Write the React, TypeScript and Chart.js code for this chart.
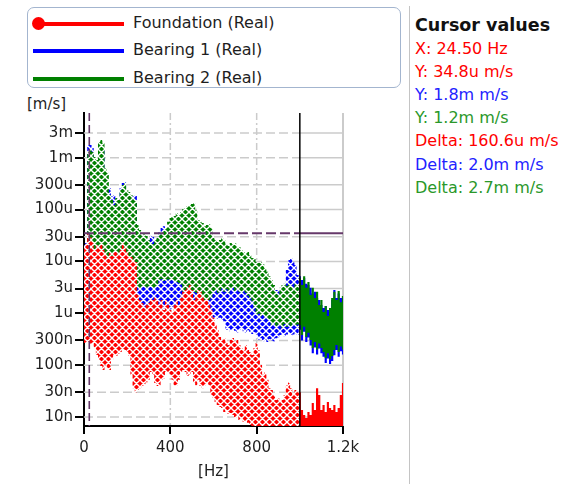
import React, { useEffect, useRef } from "react";
import { Chart, registerables } from "chart.js";

Chart.register(...registerables);

// ---------- data ----------
const FREQ_STEP_HZ = 10;
const FREQS: number[] = Array.from({ length: 121 }, (_, i) => i * FREQ_STEP_HZ);

// upper / lower envelope of each spectrum band [m/s], one value per FREQS bin
const FOUNDATION_HIGH = [
  1.9e-5, 2.17e-5, 3.5e-5, 2.9e-5, 2.37e-5, 1.66e-5, 2.08e-5, 1.9e-5, 2.08e-5, 1.66e-5,
  1.33e-5, 1.17e-5, 1.46e-5, 1.27e-5, 1.52e-5, 1.52e-5, 1.33e-5, 1.66e-5, 2.27e-5, 1.82e-5,
  1.52e-5, 1.27e-5, 1.22e-5, 1.07e-5, 9.8e-6, 2.25e-6, 1.81e-6, 1.58e-6, 1.27e-6, 1.45e-6,
  1.58e-6, 1.97e-6, 1.81e-6, 2.05e-6, 1.81e-6, 1.45e-6, 1.81e-6, 1.16e-6, 1.81e-6, 1.45e-6,
  1.16e-6, 1.06e-6, 1.45e-6, 1.81e-6, 1.45e-6, 1.97e-6, 2.6e-6, 2.81e-6, 3.1e-6, 3.52e-6,
  2.81e-6, 1.81e-6, 2.25e-6, 2.81e-6, 2.6e-6, 2.05e-6, 1.81e-6, 1.97e-6, 1.45e-6, 1.16e-6,
  8.2e-7, 5.95e-7, 4.76e-7, 3.5e-7, 3.05e-7, 3.35e-7, 2.8e-7, 2.45e-7, 3.05e-7, 3.35e-7,
  2.8e-7, 3.05e-7, 2.45e-7, 2.15e-7, 1.96e-7, 2.45e-7, 1.96e-7, 1.8e-7, 1.57e-7, 2.15e-7,
  2.67e-7, 1.96e-7, 1.01e-7, 6.5e-8, 7.4e-8, 5.2e-8, 3.6e-8, 3.3e-8, 2.66e-8, 2.13e-8,
  2.3e-8, 1.95e-8, 2.13e-8, 2.66e-8, 4.1e-8, 4.7e-8, 3.6e-8, 2.66e-8, 3.3e-8, 3.0e-8,
  3.0e-8, 1.36e-8, 1.09e-8, 9.6e-9, 1.25e-8, 1.09e-8, 1.86e-8, 1.36e-8, 3.6e-8, 2.66e-8,
  1.36e-8, 1.7e-8, 1.25e-8, 1.95e-8, 1.49e-8, 1.36e-8, 1.7e-8, 1.25e-8, 1.49e-8, 2.66e-8,
  4.5e-8,
];
const FOUNDATION_LOW = [
  2.67e-7, 2.67e-7, 2.67e-7, 2.45e-7, 2.67e-7, 2.15e-7, 1.57e-7, 1.26e-7, 9.6e-8, 8.1e-8,
  1.01e-7, 8.8e-8, 8.1e-8, 1.26e-7, 1.57e-7, 1.5e-7, 1.64e-7, 1.8e-7, 1.96e-7, 1.96e-7,
  1.8e-7, 1.5e-7, 6.5e-8, 3.6e-8, 3.0e-8, 3.3e-8, 3.6e-8, 3.95e-8, 4.3e-8, 4.7e-8,
  5.2e-8, 7.4e-8, 6.5e-8, 4.5e-8, 3.95e-8, 4.1e-8, 5.2e-8, 5.6e-8, 7.4e-8, 7.1e-8,
  6.5e-8, 5.2e-8, 4.1e-8, 4.1e-8, 5.2e-8, 7.4e-8, 8.1e-8, 7.4e-8, 6.2e-8, 6.5e-8,
  7.4e-8, 4.7e-8, 4.1e-8, 5.2e-8, 3.95e-8, 3.6e-8, 4.1e-8, 4.5e-8, 4.1e-8, 2.66e-8,
  2.3e-8, 1.95e-8, 1.7e-8, 1.56e-8, 1.49e-8, 1.25e-8, 1.36e-8, 1.14e-8, 1.19e-8, 1.09e-8,
  9.6e-9, 1.04e-8, 8.75e-9, 9.6e-9, 8.0e-9, 8.4e-9, 7.7e-9, 7.0e-9, 5e-9, 5e-9,
  5e-9, 5e-9, 5e-9, 5e-9, 5e-9, 5e-9, 5e-9, 5e-9, 5e-9, 5e-9,
  5e-9, 5e-9, 5e-9, 5e-9, 5e-9, 5e-9, 5e-9, 5e-9, 5e-9, 5e-9,
  5e-9, 5e-9, 5e-9, 5e-9, 5e-9, 5e-9, 5e-9, 5e-9, 5e-9, 5e-9,
  5e-9, 5e-9, 5e-9, 5e-9, 5e-9, 5e-9, 5e-9, 5e-9, 5e-9, 5e-9,
  5e-9,
];
const BEARING1_HIGH = [
  2.08e-5, 2.27e-5, 1.76e-3, 1.76e-3, 1.54e-3, 9.05e-4, 5.8e-4, 1.41e-3, 1.54e-3, 1.41e-3,
  2.98e-4, 2.39e-4, 2.61e-4, 1.83e-4, 1.91e-4, 1.53e-4, 1.23e-4, 2.61e-4, 3.26e-4, 3.41e-4,
  1.91e-4, 1.67e-4, 1.53e-4, 1.83e-4, 1.91e-4, 4.05e-5, 3.24e-5, 2.59e-5, 2.08e-5, 2.08e-5,
  2.59e-5, 3.24e-5, 2.96e-5, 2.37e-5, 2.59e-5, 3.7e-5, 4.4e-5, 4.8e-5, 4.4e-5, 4.8e-5,
  5.3e-5, 5.8e-5, 4.8e-5, 5.5e-5, 5.3e-5, 5.8e-5, 6.6e-5, 6.9e-5, 7.5e-5, 7.9e-5,
  8.2e-5, 8.6e-5, 6.3e-5, 4.05e-5, 3.7e-5, 3.55e-5, 3.1e-5, 3.24e-5, 3.4e-5, 2.83e-5,
  1.82e-5, 1.66e-5, 1.52e-5, 1.66e-5, 1.82e-5, 1.66e-5, 1.4e-5, 1.27e-5, 1.46e-5, 1.4e-5,
  1.46e-5, 1.27e-5, 1.22e-5, 1.07e-5, 9.8e-6, 9.3e-6, 9.8e-6, 8.55e-6, 7.5e-6, 7.5e-6,
  6.84e-6, 6.84e-6, 7.5e-6, 6.84e-6, 5.7e-6, 4.8e-6, 4.0e-6, 3.5e-6, 2.8e-6, 2.8e-6,
  2.8e-6, 2.6e-6, 3.1e-6, 2.8e-6, 6.84e-6, 1.07e-5, 1.17e-5, 9.8e-6, 8.55e-6, 5.48e-6,
  5.2e-6, 4.4e-6, 4.8e-6, 3.7e-6, 3.5e-6, 3.1e-6, 2.4e-6, 2.6e-6, 1.97e-6, 1.81e-6,
  1.45e-6, 1.27e-6, 1.39e-6, 1.16e-6, 1.06e-6, 1.81e-6, 2.81e-6, 1.97e-6, 2.4e-6, 1.97e-6,
  2.15e-6,
];
const BEARING1_LOW = [
  1.2e-6, 1.1e-6, 1.3e-6, 1.2e-6, 1.1e-6, 1.2e-6, 1.3e-6, 1.25e-6, 1.2e-6, 1.1e-6,
  1.2e-6, 1.15e-6, 1.3e-6, 1.2e-6, 1.1e-6, 1.2e-6, 1.25e-6, 1.2e-6, 1.1e-6, 1.2e-6,
  1.3e-6, 1.2e-6, 1.15e-6, 1.2e-6, 1.1e-6, 7.4e-7, 7.0e-7, 7.8e-7, 7.2e-7, 6.8e-7,
  7.5e-7, 8.0e-7, 7.4e-7, 7.0e-7, 7.6e-7, 1.3e-6, 1.4e-6, 1.25e-6, 1.35e-6, 1.3e-6,
  1.2e-6, 1.3e-6, 1.4e-6, 1.3e-6, 1.25e-6, 1.3e-6, 1.16e-6, 1.1e-6, 1.2e-6, 1.15e-6,
  1.1e-6, 1.2e-6, 1.16e-6, 1.05e-6, 1.1e-6, 1.2e-6, 1.15e-6, 1.1e-6, 1.0e-6, 9.5e-7,
  8.2e-7, 8.6e-7, 7.8e-7, 8.2e-7, 7.5e-7, 7.0e-7, 4.76e-7, 5.2e-7, 4.4e-7, 4.9e-7,
  4.6e-7, 4.2e-7, 4.8e-7, 5.0e-7, 4.5e-7, 4.2e-7, 4.7e-7, 4.4e-7, 4.0e-7, 4.3e-7,
  3.9e-7, 3.05e-7, 3.3e-7, 2.9e-7, 3.1e-7, 2.8e-7, 3.2e-7, 3.0e-7, 2.9e-7, 3.3e-7,
  3.4e-7, 3.8e-7, 4.0e-7, 3.6e-7, 3.9e-7, 4.2e-7, 3.7e-7, 3.9e-7, 4.1e-7, 3.8e-7,
  4.8e-7, 3.0e-7, 4.4e-7, 2.8e-7, 3.4e-7, 2.4e-7, 1.7e-7, 2.2e-7, 1.6e-7, 2.1e-7,
  1.7e-7, 1.45e-7, 1.1e-7, 1.35e-7, 1.05e-7, 1.2e-7, 1.55e-7, 1.95e-7, 1.45e-7, 1.85e-7,
  1.6e-7,
];
const BEARING2_HIGH = [
  1.66e-5, 1.66e-5, 1.29e-3, 1.41e-3, 1.29e-3, 1.03e-3, 9.05e-4, 2.01e-3, 2.2e-3, 1.93e-3,
  6.34e-4, 5.31e-4, 1.91e-4, 1.53e-4, 1.23e-4, 1.67e-4, 1.53e-4, 2.39e-4, 2.98e-4, 3.26e-4,
  2.39e-4, 2.19e-4, 1.91e-4, 1.67e-4, 1.53e-4, 5.05e-5, 4.05e-5, 3.24e-5, 3.4e-5, 3.1e-5,
  2.59e-5, 2.27e-5, 2.17e-5, 2.59e-5, 2.83e-5, 3.24e-5, 3.7e-5, 4.05e-5, 4.4e-5, 5.8e-5,
  6.9e-5, 7.2e-5, 7.5e-5, 8.6e-5, 8.2e-5, 9.0e-5, 1.03e-4, 1.07e-4, 1.17e-4, 1.23e-4,
  1.28e-4, 1.34e-4, 9.8e-5, 6.3e-5, 5.8e-5, 5.5e-5, 4.8e-5, 5.05e-5, 5.3e-5, 4.4e-5,
  2.83e-5, 2.59e-5, 2.37e-5, 2.59e-5, 2.83e-5, 2.59e-5, 2.17e-5, 1.99e-5, 2.27e-5, 2.17e-5,
  2.27e-5, 1.99e-5, 1.9e-5, 1.66e-5, 1.52e-5, 1.46e-5, 1.52e-5, 1.33e-5, 1.17e-5, 1.17e-5,
  9.8e-6, 9.3e-6, 9.8e-6, 8.9e-6, 7.5e-6, 6.3e-6, 5.2e-6, 4.4e-6, 3.5e-6, 2.6e-6,
  2.25e-6, 3.1e-6, 3.5e-6, 3.7e-6, 3.4e-6, 3.7e-6, 3.4e-6, 3.1e-6, 3.7e-6, 3.5e-6,
  4.8e-6, 3.5e-6, 5.2e-6, 3.1e-6, 4.0e-6, 2.25e-6, 3.1e-6, 1.97e-6, 2.6e-6, 1.45e-6,
  1.81e-6, 1.06e-6, 1.39e-6, 8.9e-7, 1.27e-6, 1.97e-6, 2.6e-6, 1.81e-6, 2.7e-6, 1.64e-6,
  2.15e-6,
];
const BEARING2_LOW = [
  1.8e-6, 1.7e-6, 1.9e-6, 1.8e-6, 1.6e-6, 1.8e-6, 1.9e-6, 1.7e-6, 1.8e-6, 1.8e-6,
  1.6e-6, 1.7e-6, 1.9e-6, 1.8e-6, 1.7e-6, 1.8e-6, 1.9e-6, 1.8e-6, 1.6e-6, 1.8e-6,
  1.7e-6, 1.9e-6, 1.8e-6, 1.8e-6, 1.7e-6, 3.2e-6, 3.0e-6, 3.3e-6, 3.2e-6, 3.1e-6,
  3.3e-6, 3.2e-6, 3.0e-6, 3.2e-6, 3.4e-6, 4.4e-6, 4.6e-6, 4.2e-6, 4.4e-6, 4.5e-6,
  4.3e-6, 4.4e-6, 4.2e-6, 4.0e-6, 3.8e-6, 3.6e-6, 2.6e-6, 2.5e-6, 2.7e-6, 2.6e-6,
  2.4e-6, 2.6e-6, 2.5e-6, 2.3e-6, 1.9e-6, 1.8e-6, 1.7e-6, 1.9e-6, 1.8e-6, 2.0e-6,
  2.6e-6, 2.8e-6, 2.5e-6, 2.7e-6, 3.0e-6, 2.6e-6, 2.9e-6, 2.5e-6, 2.8e-6, 3.1e-6,
  2.7e-6, 2.9e-6, 2.6e-6, 2.4e-6, 2.7e-6, 2.5e-6, 2.2e-6, 2.0e-6, 1.7e-6, 1.3e-6,
  9.3e-7, 9.8e-7, 8.8e-7, 9.3e-7, 8.5e-7, 8.0e-7, 7.2e-7, 5.95e-7, 6.5e-7, 5.5e-7,
  6.0e-7, 5.8e-7, 5.2e-7, 6.2e-7, 5.5e-7, 6.0e-7, 5.6e-7, 6.3e-7, 5.8e-7, 6.1e-7,
  5.95e-7, 3.8e-7, 5.5e-7, 3.5e-7, 4.2e-7, 3.05e-7, 2.15e-7, 2.8e-7, 2.0e-7, 2.6e-7,
  2.15e-7, 1.8e-7, 1.38e-7, 1.7e-7, 1.3e-7, 1.5e-7, 1.96e-7, 2.45e-7, 1.8e-7, 2.3e-7,
  2.0e-7,
];

const X_TICKS = [0, 400, 800, 1200];
const X_TICK_LABELS = ["0", "400", "800", "1.2k"];
const Y_TICKS = [1e-8, 3e-8, 1e-7, 3e-7, 1e-6, 3e-6, 1e-5, 3e-5, 1e-4, 3e-4, 1e-3, 3e-3];
const Y_TICK_LABELS = ["10n", "30n", "100n", "300n", "1u", "3u", "10u", "30u", "100u", "300u", "1m", "3m"];
const X_MIN = 0;
const X_MAX = 1200;
const Y_MIN = 6.7e-9;
const Y_MAX = 7.3e-3;

const CURSOR_X_HZ = 24.5;
const CURSOR_Y = 34.8e-6;
const DELTA_X_HZ = 1000;

const LEGEND_LABELS = ["Foundation (Real)", "Bearing 1 (Real)", "Bearing 2 (Real)"];
const CURSOR_TITLE = "Cursor values";
const CURSOR_TEXTS = [
  "X: 24.50 Hz",
  "Y: 34.8u m/s",
  "Y: 1.8m m/s",
  "Y: 1.2m m/s",
  "Delta: 160.6u m/s",
  "Delta: 2.0m m/s",
  "Delta: 2.7m m/s",
];

// ---------- styles ----------
const RED = "#ff0000";
const BLUE = "#0000ff";
const GREEN = "#008000";
const LEGEND_COLORS = [RED, BLUE, GREEN];
const CURSOR_TEXT_COLORS = ["#ff0000", "#ff0000", "#2222ff", "#2a982a", "#ff0000", "#2222ff", "#2a982a"];
const FONT = '"DejaVu Sans", sans-serif';
const TEXT = "#1e1e1e";
const GRID = "#cbcbcb";
const CURSOR_COLOR = "#66386a";
const HATCH = 7;

export default function App() {
  const canvasRef = useRef<HTMLCanvasElement | null>(null);

  useEffect(() => {
    const canvas = canvasRef.current!;
    const mainCtx = canvas.getContext("2d")!;

    const makePattern = (color: string) => {
      const t = document.createElement("canvas");
      t.width = HATCH;
      t.height = HATCH;
      const c = t.getContext("2d")!;
      c.fillStyle = color;
      c.fillRect(0, 0, HATCH, HATCH);
      c.strokeStyle = "#ffffff";
      c.lineWidth = 1.4;
      c.beginPath();
      for (const k of [-HATCH, 0, HATCH]) {
        c.moveTo(k - 1, -1);
        c.lineTo(k + HATCH + 1, HATCH + 1);
        c.moveTo(k - 1, HATCH + 1);
        c.lineTo(k + HATCH + 1, -1);
      }
      c.stroke();
      return mainCtx.createPattern(t, "repeat")!;
    };

    const band = (label: string, high: number[], low: number[], color: string) => {
      const pattern = makePattern(color);
      return [
        {
          label,
          data: FREQS.map((f, i) => ({ x: f, y: high[i] })),
          fill: "+1",
          stepped: "middle",
          backgroundColor: pattern,
          borderColor: "rgba(0,0,0,0)",
          borderWidth: 0,
          pointRadius: 0,
          segment: {
            backgroundColor: (c: any) => (c.p0.parsed.x >= DELTA_X_HZ ? color : pattern),
          },
        },
        {
          label: label + " low",
          data: FREQS.map((f, i) => ({ x: f, y: low[i] })),
          fill: false,
          stepped: "middle",
          borderColor: "rgba(0,0,0,0)",
          borderWidth: 0,
          pointRadius: 0,
        },
      ];
    };

    const tickFont = { family: FONT, size: 15 };

    const overlay = {
      id: "overlay",
      beforeDatasetsDraw(chart: any) {
        const { ctx, chartArea: a, scales } = chart;
        const x = scales.x;
        const y = scales.y;
        const xs = x.getPixelForValue(DELTA_X_HZ);
        ctx.save();
        ctx.strokeStyle = GRID;
        ctx.lineWidth = 1.5;
        for (const v of Y_TICKS) {
          const py = y.getPixelForValue(v);
          ctx.setLineDash([9, 4]);
          ctx.beginPath();
          ctx.moveTo(a.left, py);
          ctx.lineTo(xs, py);
          ctx.stroke();
          ctx.setLineDash([]);
          ctx.beginPath();
          ctx.moveTo(xs, py);
          ctx.lineTo(a.right, py);
          ctx.stroke();
        }
        for (const v of X_TICKS) {
          if (v === X_MIN) continue;
          const px = x.getPixelForValue(v);
          ctx.setLineDash(v >= X_MAX ? [] : [7, 3, 2, 3]);
          ctx.lineWidth = v >= X_MAX ? 2 : 1.5;
          ctx.beginPath();
          ctx.moveTo(px, a.top);
          ctx.lineTo(px, a.bottom);
          ctx.stroke();
        }
        ctx.restore();
      },
      afterDatasetsDraw(chart: any) {
        const { ctx, chartArea: a, scales } = chart;
        const x = scales.x;
        const y = scales.y;
        const cx = x.getPixelForValue(CURSOR_X_HZ);
        const cy = y.getPixelForValue(CURSOR_Y);
        const dx = x.getPixelForValue(DELTA_X_HZ);
        ctx.save();
        ctx.strokeStyle = CURSOR_COLOR;
        ctx.lineWidth = 1.6;
        ctx.setLineDash([8, 4]);
        ctx.beginPath();
        ctx.moveTo(cx, a.top);
        ctx.lineTo(cx, a.bottom);
        ctx.stroke();
        ctx.lineWidth = 2;
        ctx.setLineDash([10, 4]);
        ctx.beginPath();
        ctx.moveTo(a.left, cy);
        ctx.lineTo(dx, cy);
        ctx.stroke();
        ctx.setLineDash([]);
        ctx.beginPath();
        ctx.moveTo(dx, cy);
        ctx.lineTo(a.right, cy);
        ctx.stroke();
        ctx.strokeStyle = "#000000";
        ctx.lineWidth = 1.5;
        ctx.beginPath();
        ctx.moveTo(dx, a.top);
        ctx.lineTo(dx, a.bottom);
        ctx.stroke();
        ctx.restore();
      },
    };

    const chart = new Chart(canvas, {
      type: "line",
      data: {
        datasets: [
          ...band(LEGEND_LABELS[0], FOUNDATION_HIGH, FOUNDATION_LOW, RED),
          ...band(LEGEND_LABELS[2], BEARING2_HIGH, BEARING2_LOW, GREEN),
          ...band(LEGEND_LABELS[1], BEARING1_HIGH, BEARING1_LOW, BLUE),
        ] as any,
      },
      options: {
        animation: false,
        responsive: false,
        events: [],
        layout: { padding: { top: 13, right: 57, left: 0, bottom: 0 } },
        plugins: { legend: { display: false }, tooltip: { enabled: false } },
        scales: {
          x: {
            type: "linear",
            min: X_MIN,
            max: X_MAX,
            afterBuildTicks: (s: any) => {
              s.ticks = X_TICKS.map((v) => ({ value: v }));
            },
            afterFit: (s: any) => {
              s.height = 58;
            },
            ticks: {
              callback: (_v: any, i: number) => X_TICK_LABELS[i],
              autoSkip: false,
              maxRotation: 0,
              padding: 5,
              color: TEXT,
              font: tickFont,
            },
            grid: { display: true, drawOnChartArea: false, drawTicks: true, tickLength: 8, color: "#000", lineWidth: 2 },
            border: { display: true, color: "#000", width: 2 },
            title: { display: true, text: "[Hz]", color: TEXT, font: tickFont, padding: { top: 0, bottom: 3 } },
          },
          y: {
            type: "logarithmic",
            min: Y_MIN,
            max: Y_MAX,
            afterBuildTicks: (s: any) => {
              s.ticks = Y_TICKS.map((v) => ({ value: v }));
            },
            afterFit: (s: any) => {
              s.width = 84;
            },
            ticks: {
              callback: (_v: any, i: number) => Y_TICK_LABELS[i],
              autoSkip: false,
              padding: 2,
              color: TEXT,
              font: tickFont,
            },
            grid: { display: true, drawOnChartArea: false, drawTicks: true, tickLength: 9, color: "#000", lineWidth: 2 },
            border: { display: true, color: "#000", width: 2 },
          },
        },
      } as any,
      plugins: [overlay],
    });
    return () => chart.destroy();
  }, []);

  const legendCenters = [23.5, 51.3, 79];

  return (
    <div style={{ position: "fixed", left: 0, top: 0, width: 571, height: 484, background: "#fff", fontFamily: FONT, overflow: "hidden" }}>
      <div
        style={{
          position: "absolute",
          left: 27,
          top: 7,
          width: 374,
          height: 81,
          border: "1px solid #a3b5cf",
          borderRadius: 7,
          boxSizing: "border-box",
        }}
      />
      {LEGEND_LABELS.map((label, i) => (
        <React.Fragment key={label}>
          <div
            style={{
              position: "absolute",
              left: 33,
              top: legendCenters[i] - 2,
              width: 91,
              height: 4,
              background: LEGEND_COLORS[i],
            }}
          />
          {i === 0 && (
            <div
              style={{
                position: "absolute",
                left: 31.5,
                top: legendCenters[i] - 6.5,
                width: 13,
                height: 13,
                borderRadius: "50%",
                background: LEGEND_COLORS[i],
              }}
            />
          )}
          <div
            style={{
              position: "absolute",
              left: 133,
              top: legendCenters[i] - 11,
              fontSize: 16,
              lineHeight: "20px",
              color: TEXT,
              whiteSpace: "nowrap",
            }}
          >
            {label}
          </div>
        </React.Fragment>
      ))}

      <div style={{ position: "absolute", left: 27, top: 95, fontSize: 15, lineHeight: "18px", color: TEXT, whiteSpace: "nowrap" }}>
        [m/s]
      </div>

      <div style={{ position: "absolute", left: 408.5, top: 6, width: 1.5, height: 478, background: "#c4c4c4" }} />
      <div
        style={{
          position: "absolute",
          left: 415,
          top: 13.6,
          fontSize: 17.5,
          fontWeight: "bold",
          lineHeight: "22px",
          color: "#111",
          whiteSpace: "nowrap",
        }}
      >
        {CURSOR_TITLE}
      </div>
      {CURSOR_TEXTS.map((t, i) => (
        <div
          key={i}
          style={{
            position: "absolute",
            left: 415,
            top: 54 + i * 23.2 - 15.5,
            fontSize: 16,
            lineHeight: "20px",
            color: CURSOR_TEXT_COLORS[i],
            whiteSpace: "nowrap",
          }}
        >
          {t}
        </div>
      ))}

      <canvas
        ref={canvasRef}
        width={400}
        height={384}
        style={{ position: "absolute", left: 0, top: 100, width: 400, height: 384 }}
      />
    </div>
  );
}
